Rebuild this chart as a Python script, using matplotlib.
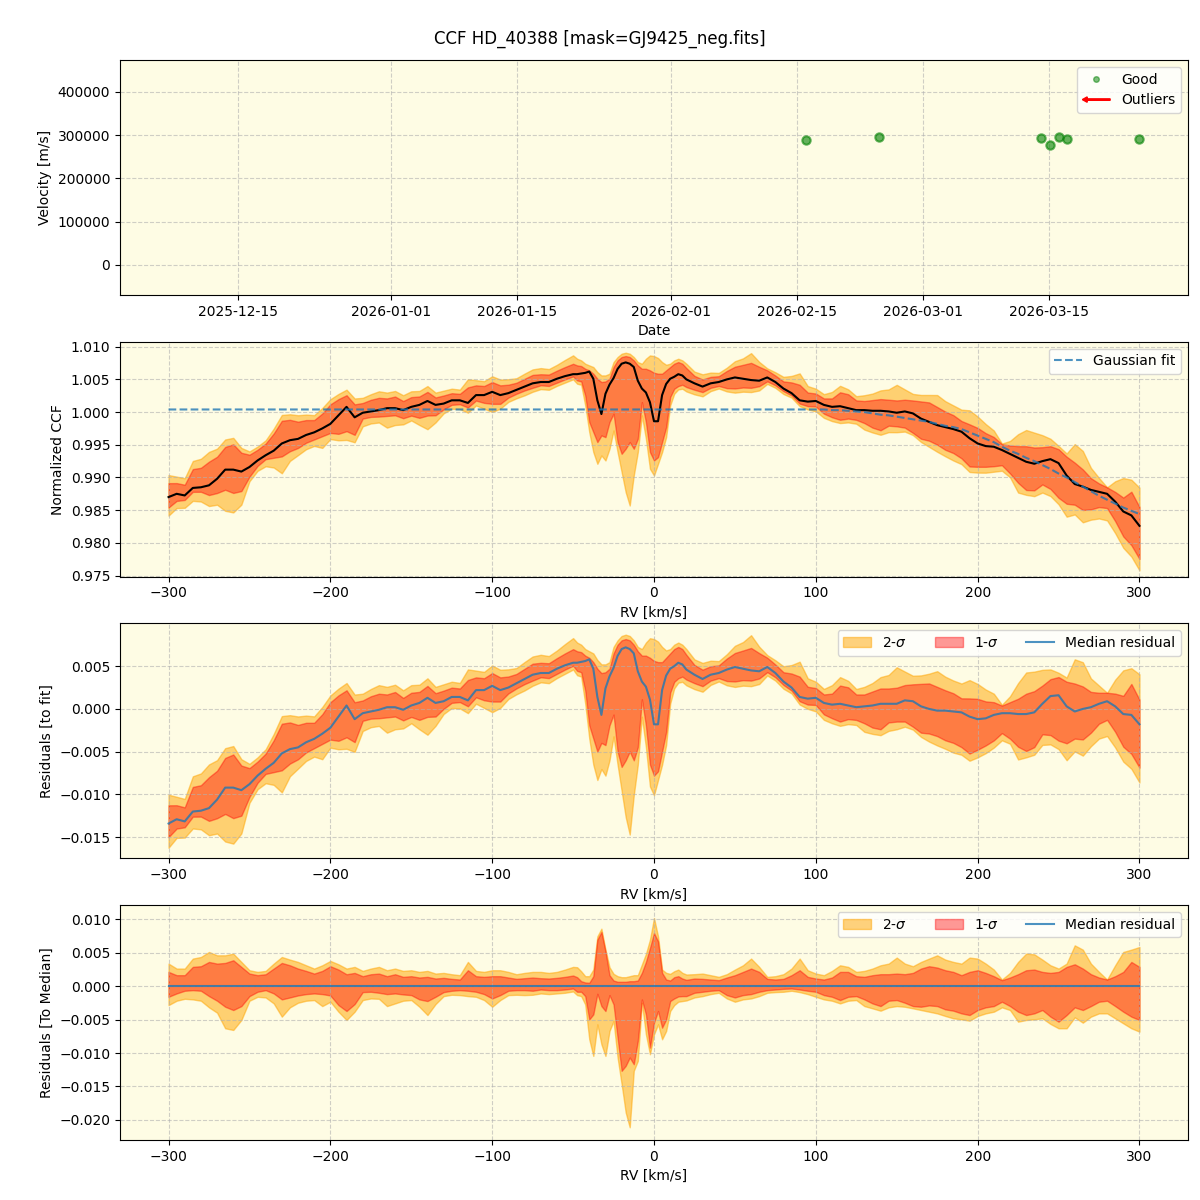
import numpy as np
import matplotlib
matplotlib.use('Agg')
import matplotlib.pyplot as plt
import matplotlib.dates as mdates
import matplotlib.patches as mpatches
from matplotlib.lines import Line2D
from matplotlib.legend_handler import HandlerPatch
from datetime import datetime

# --- top panel: RV time series ---
obs_dates = ['2026-02-16 02:00', '2026-02-24 02:00', '2026-03-14 03:00', '2026-03-15 03:00',
             '2026-03-16 03:00', '2026-03-17 00:00', '2026-03-25 00:00']
obs_vel = [290000, 295400, 293800, 276900, 295400, 291500, 291500]

# --- CCF grid (km/s): 5 km/s outside the lines, 2.5 km/s across them ---
rv = np.concatenate([np.arange(-300, -49, 5), np.arange(-47.5, 20.1, 2.5), np.arange(25, 301, 5)])

ccf_median = [
    0.9870, 0.9875, 0.98725, 0.9884, 0.9885, 0.9888, 0.9898, 0.9912, 0.9912, 0.9909,
    0.9916, 0.9926, 0.9934, 0.9941, 0.9952, 0.9957, 0.9959, 0.9965, 0.9969, 0.9975,
    0.9982, 0.9995, 1.0008, 0.9992, 0.9999, 1.0001, 1.0003, 1.0006, 1.0006, 1.0003,
    1.0008, 1.0011, 1.0017, 1.0011, 1.0013, 1.0018, 1.0018, 1.0014, 1.0026, 1.0026,
    1.0031, 1.0026, 1.0029, 1.0034, 1.0039, 1.0044, 1.0046, 1.0046, 1.0051, 1.0055,
    1.0058,
    # -47.5 .. 20
    1.0058, 1.0059, 1.0060, 1.0062, 1.0051, 1.0018, 0.9997, 1.0028, 1.0042, 1.0052,
    1.0066, 1.0074, 1.0076, 1.0074, 1.0069, 1.0048, 1.0036, 1.0030, 1.0015, 0.9986,
    0.9986, 1.0026, 1.0043, 1.0051, 1.0054, 1.0058, 1.0056, 1.0050,
    # 25 .. 300
    1.0044, 1.0039, 1.0044, 1.0046, 1.0050, 1.0053, 1.0051, 1.0049, 1.0048, 1.0053,
    1.0046, 1.0036, 1.0029, 1.0018, 1.0016, 1.0017, 1.0011, 1.0008, 1.0009, 1.0006,
    1.0003, 1.0003, 1.0002, 1.0002, 1.0001, 0.9999, 1.0001, 0.9998, 0.9990, 0.9985,
    0.9980, 0.9977, 0.9974, 0.9970, 0.9960, 0.9952, 0.9948, 0.9947, 0.9942, 0.9936,
    0.9930, 0.9924, 0.9921, 0.9925, 0.9928, 0.9922, 0.9903, 0.9890, 0.9886, 0.9881,
    0.9878, 0.9875, 0.9863, 0.9848, 0.9842, 0.9826]

# Gaussian fit: flat level below 100 km/s, then the wing
fit_level = 1.0004
fit_wing = [1.0004, 1.0004, 1.0003, 1.0003, 1.0002, 1.0001, 1.0000, 0.9998, 0.9996, 0.9995,
            0.9993, 0.9991, 0.9989, 0.9987, 0.9985, 0.9982, 0.9979, 0.9977, 0.9974, 0.9969,
            0.9964, 0.9959, 0.9954, 0.9947, 0.9941, 0.9936, 0.9930, 0.9925, 0.9919, 0.9913,
            0.9906, 0.9900, 0.9893, 0.9886, 0.9879, 0.9872, 0.9866, 0.9860, 0.9854, 0.9849,
            0.9844]

# residuals to median, x1e-3 (bottom panel)
res_hi2 = [
    3.37, 2.63, 2.63, 4.12, 4.36, 5.11, 4.61, 4.61, 4.86, 3.62, 2.38, 2.13, 2.28, 3.37, 4.36, 3.97, 3.62,
    3.12, 2.63, 3.12, 3.77, 3.27, 2.63, 2.88, 2.28, 2.63, 2.88, 2.38, 2.63, 2.28, 2.38, 2.13, 2.28, 1.88,
    1.98, 1.78, 1.64, 3.62, 2.28, 2.13, 2.38, 2.38, 2.13, 1.78, 1.98, 2.13, 2.13, 1.98, 2.13, 2.48, 2.88,
    2.83, 2.23, 1.49, 1.49, 2.48, 7.45, 8.59, 5.46, 2.83, 1.84, 1.49, 1.34, 1.34, 1.49, 1.64, 1.64, 3.23,
    4.82, 6.95, 10.18, 7.45, 2.48, 1.99, 1.84, 2.23, 2.48, 1.99, 1.74,
    1.79, 1.88, 1.64, 1.39, 1.79, 2.48, 3.12, 4.12, 2.88, 1.39, 1.49, 1.79, 2.63, 4.12, 2.38, 1.88, 1.64,
    2.28, 3.12, 2.88, 2.13, 2.28, 2.63, 3.12, 3.37, 4.27, 3.37, 2.98, 3.62, 4.12, 4.61, 3.97, 3.62, 3.37,
    4.27, 4.12, 3.37, 2.48, 0.99, 1.98, 3.62, 4.86, 4.76, 3.97, 3.12, 2.63, 3.37, 6.10, 5.46, 3.37, 2.13,
    0.99, 3.12, 5.11, 5.46, 5.85]
res_hi1 = [
    2.13, 1.64, 1.64, 2.88, 2.98, 3.62, 3.37, 3.47, 3.87, 2.88, 1.88, 1.64, 1.78, 2.63, 3.47, 3.12, 2.63,
    2.28, 1.88, 2.28, 2.98, 2.48, 1.78, 1.98, 1.49, 1.78, 1.88, 1.49, 1.78, 1.39, 1.49, 1.29, 1.39, 1.14,
    1.24, 1.09, 0.99, 2.38, 1.49, 1.39, 1.49, 1.49, 1.29, 1.09, 1.19, 1.29, 1.19, 1.14, 1.24, 1.39, 1.59,
    1.34, 0.74, 0.55, 0.50, 1.49, 6.95, 8.09, 5.21, 1.64, 0.84, 0.65, 0.65, 0.65, 0.74, 0.74, 0.84, 1.99,
    3.62, 5.71, 7.94, 6.70, 1.99, 0.99, 0.84, 1.34, 1.49, 1.14, 0.94,
    1.14, 1.09, 0.99, 0.89, 1.29, 1.64, 2.13, 2.63, 2.13, 1.09, 0.99, 1.09, 1.64, 2.38, 1.39, 1.14, 0.99,
    1.29, 2.13, 2.13, 1.49, 1.39, 1.64, 1.79, 1.79, 1.88, 1.79, 1.98, 2.63, 2.98, 2.78, 2.38, 2.13, 1.64,
    2.13, 2.38, 1.98, 1.49, 0.89, 1.29, 1.79, 2.38, 2.48, 2.13, 1.98, 2.13, 2.88, 3.27, 2.63, 1.79, 1.29,
    0.99, 1.49, 2.13, 3.62, 2.88]
res_lo1 = [
    -1.59, -1.09, -0.69, -0.60, -0.69, -1.49, -2.18, -3.08, -3.57, -2.98, -1.49, -0.84, -0.60, -1.09,
    -1.98, -1.69, -1.39, -1.19, -1.09, -1.19, -1.39, -2.83, -3.72, -2.68, -0.89, -0.84, -0.99, -1.19,
    -1.09, -1.24, -1.34, -1.98, -2.23, -1.59, -0.89, -0.69, -0.60, -0.69, -0.84, -1.19, -1.84, -1.34,
    -0.69, -0.60, -0.60, -0.69, -0.50, -0.60, -0.60, -0.50, -0.35,
    -0.84, -0.84, -1.49, -4.97, -4.22, -1.14, -2.98, -3.72, -1.34, -2.73, -7.70, -12.66, -11.92, -10.67,
    -11.67, -8.19, -1.99, -4.22, -9.19, -5.46, -3.72, -6.21, -4.97, -2.23, -1.84, -1.54, -1.49, -1.49,
    -0.99, -0.84, -0.69, -0.60, -1.34, -1.69, -1.34, -1.19, -0.84, -0.60, -0.50, -0.40, -0.35, -0.50,
    -0.69, -0.84, -1.34, -1.59, -2.08, -1.59, -1.49, -1.98, -2.58, -2.98, -2.18, -2.08, -2.48, -2.98,
    -3.08, -2.88, -2.98, -3.47, -3.67, -4.07, -4.32, -3.57, -3.17, -2.98, -2.33, -2.98, -3.82, -4.32,
    -4.07, -3.57, -4.56, -5.31, -4.32, -3.17, -3.57, -2.98, -2.33, -2.18, -2.98, -3.82, -4.56, -5.06]
res_lo2 = [
    -2.83, -2.18, -1.89, -1.98, -2.18, -3.17, -3.97, -6.30, -6.55, -5.06, -2.18, -1.59, -1.69, -2.58,
    -4.56, -3.17, -2.48, -2.18, -2.08, -2.98, -2.33, -3.82, -5.06, -3.82, -2.08, -1.84, -1.89, -2.98,
    -2.58, -2.18, -2.08, -3.08, -4.32, -2.68, -1.49, -1.29, -1.34, -1.49, -1.59, -2.08, -3.08, -2.08,
    -1.34, -1.29, -1.34, -1.29, -1.09, -1.19, -1.09, -0.99, -0.79,
    -1.34, -1.49, -2.73, -7.94, -10.43, -5.71, -8.69, -10.43, -6.70, -5.21, -10.67, -14.65, -18.87,
    -21.10, -12.66, -11.17, -2.48, -7.20, -10.18, -7.20, -5.71, -7.94, -6.70, -3.72, -2.83, -2.33,
    -2.23, -2.14,
    -1.69, -1.49, -1.19, -0.99, -1.84, -2.33, -1.98, -1.84, -1.49, -0.99, -0.89, -0.84, -0.69, -0.89,
    -1.19, -1.59, -1.98, -2.18, -2.58, -2.18, -2.08, -2.98, -3.32, -3.67, -3.17, -2.98, -3.08, -3.32,
    -3.57, -3.82, -4.07, -4.46, -4.81, -4.96, -5.16, -4.46, -4.07, -3.82, -3.17, -3.57, -5.31, -5.06,
    -4.96, -4.81, -5.65, -6.30, -6.30, -4.66, -5.46, -4.56, -4.07, -4.07, -4.81, -5.56, -6.30, -6.80]

# CCF percentile bands across the line window (-47.5 .. 20 km/s), read directly
line_hi2 = [1.00816, 1.00791, 1.00740, 1.00714, 1.00689, 1.00612, 1.00561, 1.00561, 1.00587, 1.00765,
            1.00842, 1.00893, 1.00908, 1.00893, 1.00842, 1.00765, 1.00740, 1.00816, 1.00867, 1.00857,
            1.00827, 1.00765, 1.00724, 1.00740, 1.00791, 1.00816, 1.00791, 1.00740]
line_hi1 = [1.00714, 1.00704, 1.00663, 1.00638, 1.00587, 1.00510, 1.00459, 1.00469, 1.00510, 1.00689,
            1.00791, 1.00842, 1.00857, 1.00842, 1.00791, 1.00714, 1.00663, 1.00663, 1.00638, 1.00602,
            1.00587, 1.00587, 1.00638, 1.00689, 1.00740, 1.00765, 1.00740, 1.00673]
line_lo1 = [1.00485, 1.00469, 1.00255, 0.99847, 0.99694, 0.99541, 0.99643, 0.99617, 0.99847, 0.99974,
            0.99541, 0.99362, 0.99439, 0.99541, 0.99439, 0.99592, 1.00153, 0.99847, 0.99388, 0.99260,
            0.99311, 0.99541, 0.99770, 1.00230, 1.00357, 1.00398, 1.00418, 1.00383]
line_lo2 = [1.00434, 1.00418, 1.00102, 0.99694, 0.99388, 0.99209, 0.99337, 0.99260, 0.99439, 0.99719,
            0.99388, 0.99082, 0.98776, 0.98571, 0.99031, 0.99388, 0.99949, 0.99592, 0.99133, 0.99031,
            0.99209, 0.99388, 0.99617, 1.00102, 1.00281, 1.00347, 1.00357, 1.00316]

med = np.array(ccf_median)
n_flat = np.sum(rv < 100)
fit = np.concatenate([np.full(n_flat, fit_level), fit_wing])
r_hi2 = np.array(res_hi2) * 1e-3
r_hi1 = np.array(res_hi1) * 1e-3
r_lo1 = np.array(res_lo1) * 1e-3
r_lo2 = np.array(res_lo2) * 1e-3

win = (rv > -49) & (rv < 21)
c_hi2 = med + r_hi2
c_hi1 = med + r_hi1
c_lo1 = med + r_lo1
c_lo2 = med + r_lo2
c_hi2[win] = line_hi2
c_hi1[win] = line_hi1
c_lo1[win] = line_lo1
c_lo2[win] = line_lo2

bg = '#fefce4'


class HandlerArrow(HandlerPatch):
    def create_artists(self, legend, orig_handle, xdescent, ydescent, width, height, fontsize, trans):
        p = mpatches.FancyArrow(width - xdescent, 0.5 * height - ydescent, -width, 0,
                                width=height * 0.15, head_width=height * 0.55,
                                head_length=height * 0.5, length_includes_head=True, color='red')
        p.set_transform(trans)
        return [p]


fig, axes = plt.subplots(4, 1, figsize=(12, 12), dpi=100)
fig.subplots_adjust(left=0.1, right=0.99, top=0.95, bottom=0.05, hspace=0.2)
fig.suptitle('CCF HD_40388 [mask=GJ9425_neg.fits]', fontsize=12, y=0.975)

# top: velocities
ax = axes[0]
ax.set_facecolor(bg)
dates = [datetime.strptime(d, '%Y-%m-%d %H:%M') for d in obs_dates]
ax.plot(dates, obs_vel, 'o', color='green', alpha=0.6, ms=6, mec='green', mew=1.5)
ax.set_xlim(datetime(2025, 12, 1, 22), datetime(2026, 3, 30, 10))
ax.set_ylim(-69000, 474000)
ax.xaxis.set_major_locator(mdates.DayLocator(bymonthday=[1, 15]))
ax.xaxis.set_major_formatter(mdates.DateFormatter('%Y-%m-%d'))
ax.set_xlabel('Date')
ax.set_ylabel('Velocity [m/s]')
ax.grid(True, ls='--', alpha=0.6)
good = Line2D([], [], marker='o', ls='', color='green', alpha=0.5, ms=4)
outl = mpatches.Patch(color='red')
ax.legend([good, outl], ['Good', 'Outliers'], loc='upper right',
          handler_map={mpatches.Patch: HandlerArrow()})

# normalized CCF
ax = axes[1]
ax.set_facecolor(bg)
ax.fill_between(rv, c_lo2, c_hi2, color='orange', alpha=0.5)
ax.fill_between(rv, c_lo1, c_hi1, color='red', alpha=0.4)
ax.plot(rv, med, color='black', lw=1.5)
ax.plot(rv, fit, '--', color='C0', alpha=0.8, lw=1.5, label='Gaussian fit')
ax.set_xlim(-330, 330)
ax.set_ylim(0.97485, 1.01076)
ax.set_xlabel('RV [km/s]')
ax.set_ylabel('Normalized CCF')
ax.grid(True, ls='--', alpha=0.6)
ax.legend(loc='upper right')

# residuals to fit
ax = axes[2]
ax.set_facecolor(bg)
ax.fill_between(rv, c_lo2 - fit, c_hi2 - fit, color='orange', alpha=0.5, label='2-$\\sigma$')
ax.fill_between(rv, c_lo1 - fit, c_hi1 - fit, color='red', alpha=0.4, label='1-$\\sigma$')
ax.plot(rv, med - fit, color='C0', alpha=0.8, lw=1.5, label='Median residual')
ax.set_xlim(-330, 330)
ax.set_ylim(-0.01746, 0.00999)
ax.set_xlabel('RV [km/s]')
ax.set_ylabel('Residuals [to fit]')
ax.grid(True, ls='--', alpha=0.6)
ax.legend(loc='upper right', ncol=3)

# residuals to median
ax = axes[3]
ax.set_facecolor(bg)
ax.fill_between(rv, r_lo2, r_hi2, color='orange', alpha=0.5, label='2-$\\sigma$')
ax.fill_between(rv, r_lo1, r_hi1, color='red', alpha=0.4, label='1-$\\sigma$')
ax.plot(rv, med - med, color='C0', alpha=0.8, lw=1.5, label='Median residual')
ax.set_xlim(-330, 330)
ax.set_ylim(-0.0230, 0.0121)
ax.set_xlabel('RV [km/s]')
ax.set_ylabel('Residuals [To Median]')
ax.grid(True, ls='--', alpha=0.6)
ax.legend(loc='upper right', ncol=3)

fig.savefig('out.png', dpi=100)
